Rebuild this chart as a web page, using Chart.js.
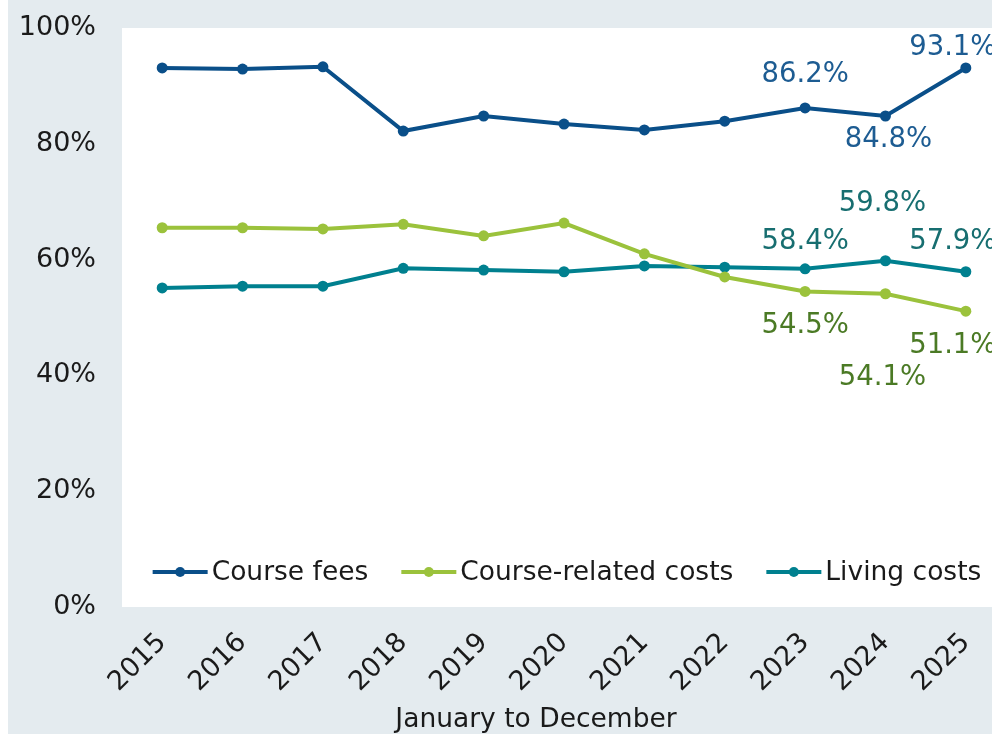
<!DOCTYPE html>
<html>
<head>
<meta charset="utf-8">
<script src="https://cdn.jsdelivr.net/npm/chart.js@4.4.1/dist/chart.umd.min.js"></script>
<style>
  html, body { margin: 0; padding: 0; overflow: hidden; background: #fff; }
  #wrap { position: absolute; left: 8px; top: 0; width: 1010px; height: 734px; background: #e4ebef; }
</style>
</head>
<body>
<div id="wrap"><canvas id="costsChart"></canvas></div>
<script>
const years = ['2015', '2016', '2017', '2018', '2019', '2020', '2021', '2022', '2023', '2024', '2025'];
const courseFees   = [93.1, 92.9, 93.3, 82.2, 84.8, 83.4, 82.4, 83.9, 86.2, 84.8, 93.1];
const relatedCosts = [65.5, 65.5, 65.3, 66.1, 64.1, 66.3, 61.0, 57.0, 54.5, 54.1, 51.1];
const livingCosts  = [55.1, 55.4, 55.4, 58.5, 58.2, 57.9, 58.9, 58.7, 58.4, 59.8, 57.9];
const seriesNames  = ['Course fees', 'Course-related costs', 'Living costs'];
const xTitle = 'January to December';

const FONT = "'DejaVu Sans', Verdana, sans-serif";
Chart.defaults.font.family = FONT;
Chart.defaults.font.size = 27;
Chart.defaults.color = '#1a1a1a';

// which points carry a value label, and where it sits relative to the point
const labelSpots = [
    { ds: 0, i: 8, dx: 0, dy: -33 }, { ds: 0, i: 9, dx: 3, dy: 24 }, { ds: 0, i: 10, dx: -13, dy: -20 },
    { ds: 1, i: 8, dx: 0, dy: 34 }, { ds: 1, i: 9, dx: -3, dy: 84 }, { ds: 1, i: 10, dx: -13, dy: 35 },
    { ds: 2, i: 8, dx: 0, dy: -27 }, { ds: 2, i: 9, dx: -3, dy: -57 }, { ds: 2, i: 10, dx: -13, dy: -30 }
];
const labelColors = ['#1d5c92', '#4b7a25', '#176e70'];

const plotBg = {
    id: 'plotBg',
    beforeDraw(chart) {
        const { ctx, chartArea: a } = chart;
        ctx.save();
        ctx.fillStyle = '#ffffff';
        ctx.fillRect(a.left, a.top, a.right - a.left, a.bottom - a.top);
        ctx.restore();
    }
};

const valueLabels = {
    id: 'valueLabels',
    afterDatasetsDraw(chart) {
        const ctx = chart.ctx;
        ctx.save();
        ctx.font = '27.5px ' + FONT;
        ctx.textAlign = 'center';
        ctx.textBaseline = 'middle';
        labelSpots.forEach(s => {
            const pt = chart.getDatasetMeta(s.ds).data[s.i];
            const v = chart.data.datasets[s.ds].data[s.i];
            ctx.fillStyle = labelColors[s.ds];
            ctx.fillText(v.toFixed(1) + '%', pt.x + s.dx, pt.y + s.dy);
        });
        ctx.restore();
    }
};

// legend drawn inside the plot, near the bottom
const insideLegend = {
    id: 'insideLegend',
    afterDraw(chart) {
        const { ctx, chartArea: a } = chart;
        const lineLen = 55, gapText = 4, gapItem = 33;
        ctx.save();
        ctx.font = '26.5px ' + FONT;
        const items = chart.data.datasets.map(d => ({ d, w: lineLen + gapText + ctx.measureText(d.label).width }));
        const total = items.reduce((s, it) => s + it.w, 0) + gapItem * (items.length - 1);
        let x = (a.left + a.right) / 2 - total / 2 + 3;
        const y = a.bottom - 35;
        items.forEach(it => {
            ctx.strokeStyle = it.d.borderColor;
            ctx.lineWidth = 4;
            ctx.beginPath();
            ctx.moveTo(x, y);
            ctx.lineTo(x + lineLen, y);
            ctx.stroke();
            ctx.fillStyle = it.d.borderColor;
            ctx.beginPath();
            ctx.arc(x + lineLen / 2, y, 5, 0, Math.PI * 2);
            ctx.fill();
            ctx.fillStyle = '#1a1a1a';
            ctx.textAlign = 'left';
            ctx.textBaseline = 'middle';
            ctx.fillText(it.d.label, x + lineLen + gapText, y + 1);
            x += it.w + gapItem;
        });
        // x axis title
        ctx.textAlign = 'center';
        ctx.fillText(xTitle, (a.left + a.right) / 2 - 28, 720);
        ctx.restore();
    }
};

const ctx = document.getElementById('costsChart').getContext('2d');
new Chart(ctx, {
    type: 'line',
    data: {
        labels: years,
        datasets: [
            { label: seriesNames[0], data: courseFees, borderColor: '#0a4f89', backgroundColor: '#0a4f89' },
            { label: seriesNames[1], data: relatedCosts, borderColor: '#9bc23c', backgroundColor: '#9bc23c' },
            { label: seriesNames[2], data: livingCosts, borderColor: '#00808f', backgroundColor: '#00808f' }
        ]
    },
    options: {
        responsive: true,
        maintainAspectRatio: false,
        animation: false,
        layout: { padding: { top: 28, right: 12, left: 0, bottom: 0 } },
        elements: {
            line: { borderWidth: 4, tension: 0 },
            point: { radius: 5.5, borderWidth: 0, hoverRadius: 5.5 }
        },
        plugins: { legend: { display: false }, tooltip: { enabled: false } },
        scales: {
            x: {
                offset: true,
                grid: { display: false, drawTicks: false },
                border: { display: false },
                ticks: { minRotation: 45, maxRotation: 45, padding: 20 },
                afterFit: s => { s.height = 127; }
            },
            y: {
                min: 0, max: 100,
                grid: { display: false, drawTicks: true, tickLength: 26 },
                border: { display: false },
                ticks: { stepSize: 20, padding: 0, callback: v => v + '%' },
                afterFit: s => { s.width = 114; }
            }
        }
    },
    plugins: [plotBg, valueLabels, insideLegend]
});
</script>
</body>
</html>
